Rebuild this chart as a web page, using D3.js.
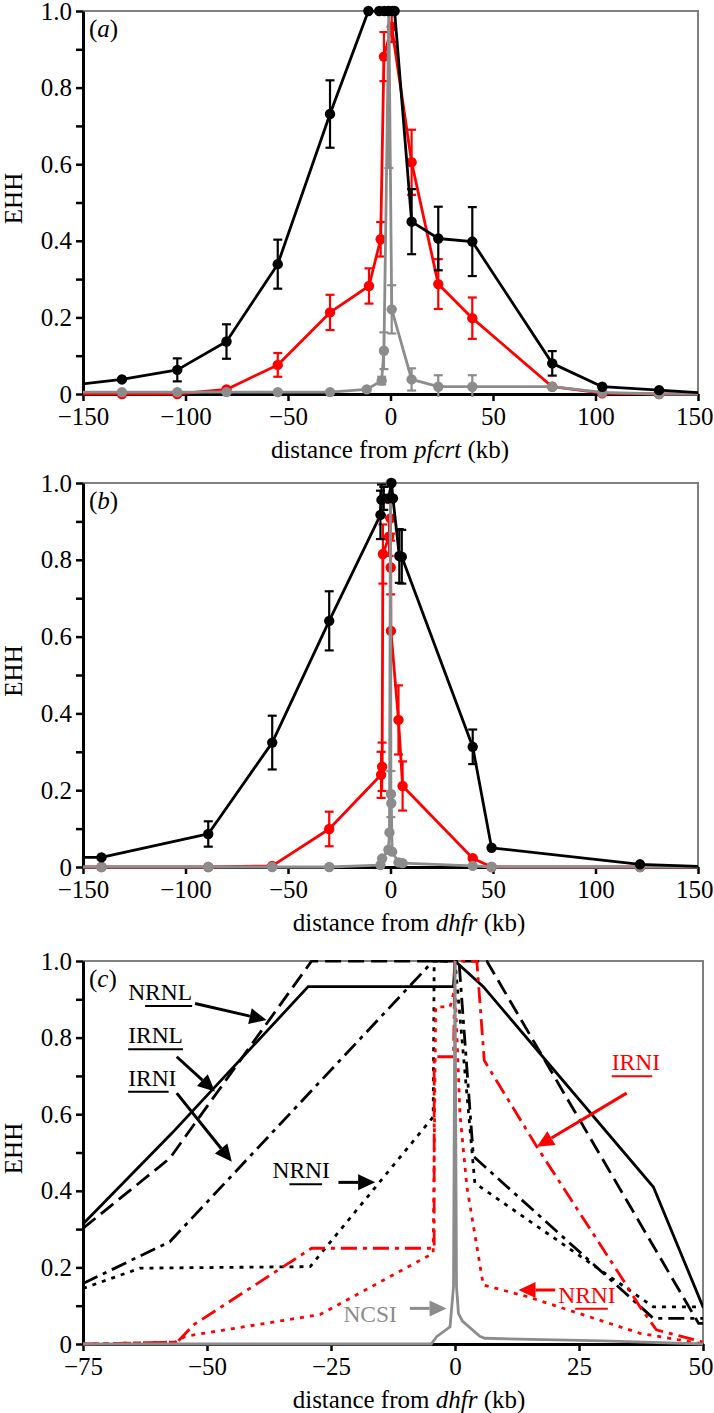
<!DOCTYPE html>
<html><head><meta charset="utf-8">
<script src="https://cdn.jsdelivr.net/npm/d3@7"></script>
<style>body{margin:0;background:#fff}</style>
</head><body>
<svg id="chart" width="714" height="1413"></svg>
<script>
// ---------------- DATA ----------------
// panel (a): distance from pfcrt (kb), EHH, error
const aBlack = [[-160,0.020,0],[-131,0.038,0],[-104,0.063,0.03],[-80,0.137,0.045],[-55,0.339,0.064],[-29.5,0.731,0.088],
  [-10.8,1.0,0],[-5.5,1.0,0],[-3,1.0,0],[-1,1.0,0],[1,1.0,0],[2,1.0,0],[10.3,0.45,0.085],[23.3,0.406,0.083],[39.9,0.398,0.09],
  [78.9,0.08,0.032],[103.3,0.019,0],[131,0.010,0],[160,0.0,0]];
const aRed = [[-160,0,0],[-131,0,0],[-104,0,0],[-80,0.012,0],[-55,0.076,0.031],[-29.5,0.213,0.046],[-10.5,0.282,0.046],
  [-4.8,0.404,0.045],[-3.2,0.881,0.064],[0.6,0.959,0.04],[10.3,0.605,0.085],[23.3,0.287,0.065],[39.9,0.198,0.054],
  [78.9,0.019,0],[103.3,0.002,0],[131,0,0],[160,0,0]];
const aGrey = [[-160,0.005,0],[-131,0.005,0],[-104,0.005,0],[-80,0.005,0],[-55,0.005,0],[-29.5,0.005,0],[-11.6,0.012,0],
  [-4.3,0.035,0.01],[-3.2,0.113,0.048],[-0.8,1.0,0.41],[0.6,0.221,0.063],[10.3,0.038,0.029],[23.3,0.019,0.03],
  [39.9,0.019,0.03],[78.9,0.019,0],[103.3,0.004,0],[131,0.0,0],[160,0,0]];

// panel (b): distance from dhfr (kb)
const bBlack = [[-160,0.025,0],[-141,0.025,0],[-88.9,0.086,0.033],[-57.7,0.324,0.07],[-29.9,0.641,0.077],
  [-4.9,0.917,0.063],[-4.4,0.956,0.04],[-3.3,0.96,0.03],[-1,0.96,0],[0.5,1.0,0],[1.2,0.96,0],[4.3,0.81,0.07],
  [5.5,0.808,0.07],[40.1,0.313,0.045],[49.3,0.05,0],[121.7,0.007,0],[160,0,0]];
const bRed = [[-160,0,0],[-141,0,0],[-88.9,0,0],[-57.7,0.003,0],[-29.9,0.099,0.045],[-4.6,0.24,0.06],[-4.1,0.261,0.063],
  [-3.7,0.815,0.077],[-0.7,0.86,0.05],[0,0.908,0.04],[0.1,0.78,0.07],[0.2,0.615,0],[3.9,0.383,0.09],[5.9,0.211,0.064],
  [40.1,0.023,0],[49.3,0,0],[121.7,0,0],[160,0,0]];
const bGrey = [[-160,0,0],[-141,0,0],[-88.9,0,0],[-57.7,0,0],[-29.9,0,0],[-4.9,0.005,0],[-4.1,0.022,0],[-1,0.045,0],
  [-0.5,0.09,0],[0,1.0,0],[0.2,0.19,0.06],[0.4,0.166,0],[0.8,0.04,0],[3.9,0.012,0],[5.9,0.01,0],[40.1,0.003,0],
  [49.3,0,0],[121.7,0,0],[160,0,0]];

// panel (c): haplotype EHH curves
const cSolidNRNL = [[-75,0.313],[-57.1,0.55],[-29.6,0.933],[-0.3,0.933],[0,1.0],[5.7,0.933],[40,0.41],[50,0.097]];
const cDashIRNL = [[-75,0.302],[-57.5,0.485],[-28.9,1.0],[6.4,1.0],[49.1,0.054],[50,0.054]];
const cDashDotIRNI = [[-75,0.158],[-57.5,0.267],[-4.4,1.0],[0.8,1.0],[3.7,0.49],[40,0.067],[50,0.067]];
const cDotNRNI = [[-75,0.145],[-63.5,0.198],[-29.2,0.202],[-4.4,0.593],[-4.2,1.0],[0,1.0],[4,0.42],[40,0.097],[50,0.097]];
const cRedDashDotIRNI = [[-75,0],[-56,0.005],[-52.7,0.05],[-28.9,0.25],[-4.2,0.25],[-4.2,0.75],[-0.3,0.75],[0,1.0],
  [4.4,1.0],[5.9,0.74],[16.5,0.515],[33.9,0.167],[37.3,0.097],[40.6,0.037],[49.7,0.006],[50,0]];
const cRedDotNRNI = [[-75,0],[-56.4,0.005],[-54.4,0.02],[-27.2,0.077],[-4.4,0.237],[-3.9,0.88],[-1,0.88],[0,0.93],
  [1,0.6],[2.4,0.41],[5.7,0.154],[14.5,0.124],[37.3,0.028],[50,0]];
const cGreyNCSI = [[-75,0],[-4.8,0],[-3.7,0.019],[-1,0.045],[-0.3,0.15],[0,1.0],[0.3,0.15],[0.7,0.08],[1.5,0.06],
  [5,0.02],[6,0.015],[30,0.008],[50,0]];

// tick labels
const abXTicks = [-150,-100,-50,0,50,100,150];
const cXTicks = [-75,-50,-25,0,25,50];
const yTickValues = [0,0.1,0.2,0.3,0.4,0.5,0.6,0.7,0.8,0.9,1.0];
const yTickLabels = ["0","","0.2","","0.4","","0.6","","0.8","","1.0"];

// panel (c) annotations: [label, underline start, underline count, textX, textY, arrowFromX, arrowFromY, arrowToX, arrowToY, color]
const cLabels = [
  ["NRNL",1,3,-65.9,0.898,-52.4,0.889,-38.0,0.846,"#000"],
  ["IRNL",0,4,-65.9,0.785,-56.1,0.75,-48.4,0.659,"#000"],
  ["IRNI",0,3,-65.9,0.674,-56.1,0.655,-45.0,0.476,"#000"],
  ["NRNI",1,2,-36.8,0.433,-23.5,0.422,-16.1,0.422,"#000"],
  ["IRNI",0,3,31.6,0.715,34.6,0.655,16.5,0.515,"#ff0000"],
  ["NRNI",1,2,20.8,0.108,20.2,0.141,12.8,0.141,"#ff0000"],
  ["NCSI",-1,0,-22.5,0.058,-9.1,0.093,-1.7,0.093,"#8c8c8c"]
];

// ---------------- DRAW ----------------
const FONT = "'Liberation Serif','Times New Roman',serif";
const FS = "25px";
const RED = "#ff0000", GREY = "#8c8c8c", BLACK = "#000";
const svg = d3.select("#chart").style("font-family", FONT);
svg.append("rect").attr("width",714).attr("height",1413).attr("fill","#fff");

function frame(cfg, id) {
  const x = d3.scaleLinear().domain(cfg.xDomain).range([cfg.left, cfg.right]);
  const y = d3.scaleLinear().domain([0,1]).range([cfg.bottom, cfg.top]);
  const g = svg.append("g");
  g.append("path").attr("d", `M${cfg.left},${cfg.top}H${cfg.right}V${cfg.bottom}`)
    .attr("fill","none").attr("stroke","#808080").attr("stroke-width",2);
  const ya = g.append("g").attr("transform",`translate(${cfg.left},0)`)
    .call(d3.axisLeft(y).tickValues(yTickValues).tickFormat((d,i)=>yTickLabels[i]).tickSize(7).tickSizeOuter(0).tickPadding(4));
  const xa = g.append("g").attr("transform",`translate(0,${cfg.bottom})`)
    .call(d3.axisBottom(x).tickValues(cfg.ticks).tickFormat(d => d < 0 ? "\u2212" + Math.abs(d) : String(d)).tickSize(7).tickSizeOuter(0).tickPadding(6));
  [ya, xa].forEach(a => {
    a.attr("font-family", FONT).attr("font-size", FS);
    a.select(".domain").attr("stroke", BLACK).attr("stroke-width", 3);
    a.selectAll(".tick line").attr("stroke", BLACK).attr("stroke-width", 2.5);
    a.selectAll(".tick text").attr("fill", BLACK).style("font-size",FS).style("font-family", FONT);
  });
  xa.selectAll(".tick text").filter(d => x(d) > 690).attr("text-anchor","end").attr("dx", 714 - 1 - cfg.right);
  const t = g.append("text").attr("x", cfg.titleX).attr("y", cfg.bottom+64)
    .attr("text-anchor","middle").style("font-size",FS);
  t.append("tspan").text("distance from ");
  t.append("tspan").style("font-style","italic").text(cfg.gene);
  t.append("tspan").text(" (kb)");
  g.append("text").attr("transform",`translate(22,${(cfg.top+cfg.bottom)/2 - 4}) rotate(-90)`)
    .attr("text-anchor","middle").style("font-size",FS).text("EHH");
  const pl = g.append("text").attr("x", cfg.left+6).attr("y", cfg.top+26).style("font-size",FS);
  pl.append("tspan").text("(");
  pl.append("tspan").style("font-style","italic").text(cfg.letter);
  pl.append("tspan").text(")");
  svg.append("clipPath").attr("id", id).append("rect")
    .attr("x", cfg.left).attr("y", cfg.top-1).attr("width", cfg.right-cfg.left).attr("height", cfg.bottom-cfg.top+4);
  return {x, y};
}

function series(cfg, sc, clipId, data, color) {
  const {x, y} = sc;
  const g = svg.append("g");
  const line = d3.line().x(d=>x(d[0])).y(d=>y(d[1]));
  g.append("path").datum(data).attr("d", line).attr("fill","none").attr("stroke",color)
    .attr("stroke-width",2.8).attr("stroke-linejoin","round").attr("clip-path",`url(#${clipId})`);
  const inside = data.filter(d => d[0] >= cfg.xDomain[0] && d[0] <= cfg.xDomain[1]);
  const eb = g.append("g").attr("clip-path",`url(#${clipId})`).attr("stroke",color).attr("stroke-width",2.2);
  inside.filter(d=>d[2]>0).forEach(d => {
    const cx = x(d[0]), y1 = y(d[1]-d[2]), y2 = y(d[1]+d[2]);
    eb.append("line").attr("x1",cx).attr("x2",cx).attr("y1",y1).attr("y2",y2);
    eb.append("line").attr("x1",cx-4.5).attr("x2",cx+4.5).attr("y1",y1).attr("y2",y1);
    eb.append("line").attr("x1",cx-4.5).attr("x2",cx+4.5).attr("y1",y2).attr("y2",y2);
  });
  g.selectAll("circle").data(inside).join("circle")
    .attr("cx", d=>x(d[0])).attr("cy", d=>y(d[1])).attr("r", 5.2).attr("fill", color);
}

// Panel a
const cfgA = {left:83, right:698, top:11, bottom:394, xDomain:[-150,150], ticks:abXTicks, gene:"pfcrt", letter:"a", titleX:390};
const sA = frame(cfgA, "clipA");
series(cfgA, sA, "clipA", aRed, RED);
series(cfgA, sA, "clipA", aGrey, GREY);
series(cfgA, sA, "clipA", aBlack, BLACK);

// Panel b
const cfgB = {left:83, right:698, top:483, bottom:867, xDomain:[-150,150], ticks:abXTicks, gene:"dhfr", letter:"b", titleX:409};
const sB = frame(cfgB, "clipB");
series(cfgB, sB, "clipB", bRed, RED);
series(cfgB, sB, "clipB", bGrey, GREY);
series(cfgB, sB, "clipB", bBlack, BLACK);

// Panel c
const cfgC = {left:83, right:703, top:961, bottom:1344, xDomain:[-75,50], ticks:cXTicks, gene:"dhfr", letter:"c", titleX:409};
const sC = frame(cfgC, "clipC");
const lineC = d3.line().x(d=>sC.x(d[0])).y(d=>sC.y(d[1]));
const cSeries = [
  [cDotNRNI, BLACK, "4,6"],
  [cDashDotIRNI, BLACK, "16,6,4,6"],
  [cDashIRNL, BLACK, "16,7"],
  [cSolidNRNL, BLACK, null],
  [cRedDotNRNI, RED, "4,6"],
  [cRedDashDotIRNI, RED, "16,6,4,6"],
  [cGreyNCSI, GREY, null]
];
cSeries.forEach(([data, color, dash]) => {
  const p = svg.append("path").datum(data).attr("d", lineC).attr("fill","none").attr("stroke",color)
    .attr("stroke-width",2.8).attr("clip-path","url(#clipC)");
  if (dash) p.attr("stroke-dasharray", dash);
});

cLabels.forEach(([txt, us, un, tx, ty, fx, fy, ax, ay, color]) => {
  const px = sC.x(tx), py = sC.y(ty);
  const t = svg.append("text").attr("x", px).attr("y", py).attr("fill", color)
    .style("font-size","23.5px").text(txt);
  if (un > 0) {
    const node = t.node();
    const x0 = px + (us > 0 ? node.getSubStringLength(0, us) : 0);
    const w = node.getSubStringLength(us, un);
    svg.append("line").attr("x1", x0).attr("x2", x0 + w).attr("y1", py + 6).attr("y2", py + 6)
      .attr("stroke", color).attr("stroke-width", 2);
  }
  const x1 = sC.x(fx), y1 = sC.y(fy), x2 = sC.x(ax), y2 = sC.y(ay);
  const ang = Math.atan2(y2 - y1, x2 - x1);
  const L = 17, Wd = 8;
  const bx = x2 - L*Math.cos(ang), by = y2 - L*Math.sin(ang);
  svg.append("line").attr("x1", x1).attr("y1", y1).attr("x2", bx).attr("y2", by)
    .attr("stroke", color).attr("stroke-width", 3);
  svg.append("path").attr("d",
    `M${x2},${y2}L${bx + Wd*Math.sin(ang)},${by - Wd*Math.cos(ang)}L${bx - Wd*Math.sin(ang)},${by + Wd*Math.cos(ang)}Z`)
    .attr("fill", color);
});
</script>
</body></html>
